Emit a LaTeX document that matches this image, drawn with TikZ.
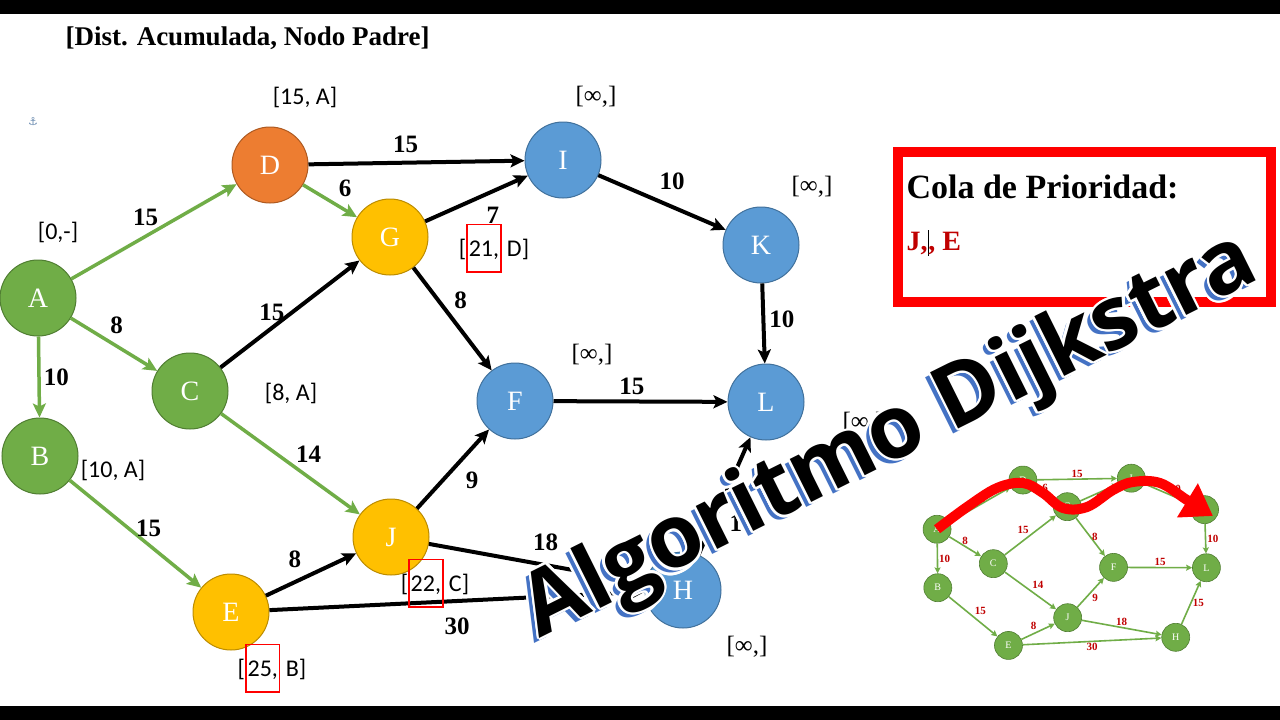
\documentclass[tikz,border=0pt]{standalone}
\usepackage{fontspec}
\setmainfont{Liberation Serif}
\newfontfamily\calfont{Carlito}
\newfontfamily\bigsans{Open Sans}
\newfontfamily\symfont{DejaVu Sans}
\usepackage{xcolor}
\usepackage{contour}
\usetikzlibrary{positioning,calc,arrows.meta}

\definecolor{ogreen}{HTML}{70AD47}
\definecolor{ogreenD}{HTML}{507E32}
\definecolor{oorange}{HTML}{ED7D31}
\definecolor{oorangeD}{HTML}{AE5A21}
\definecolor{oyellow}{HTML}{FFC000}
\definecolor{oyellowD}{HTML}{BC8C00}
\definecolor{oblue}{HTML}{5B9BD5}
\definecolor{oblueD}{HTML}{41719C}
\definecolor{wred}{HTML}{C00000}
\definecolor{shadeblue}{HTML}{4472C4}
\definecolor{anchorblue}{HTML}{6A8BB0}

\contourlength{2.3pt}
\newcommand{\hlbox}[1]{{\setlength{\fboxsep}{1pt}\setlength{\fboxrule}{1.5pt}\color{red}\fbox{\color{black}\rule[-14pt]{0pt}{44pt}#1}}}

\begin{document}
\begin{tikzpicture}[x=1pt, y=-1pt,
  vtx/.style={circle, minimum size=76pt, inner sep=0pt, line width=1pt, text=white, font=\fontsize{28}{30}\selectfont},
  gv/.style={vtx, fill=ogreen, draw=ogreenD},
  ov/.style={vtx, fill=oorange, draw=oorangeD},
  yv/.style={vtx, fill=oyellow, draw=oyellowD},
  bv/.style={vtx, fill=oblue, draw=oblueD},
  sv/.style={circle, minimum size=28pt, inner sep=0pt, fill=ogreen, draw=ogreenD, line width=.6pt, text=white, font=\fontsize{10}{11}\selectfont},
  gedge/.style={draw=ogreen, line width=3.5pt, -{Stealth[length=14pt, width=13pt, inset=3pt]}},
  kedge/.style={draw=black, line width=4pt, -{Stealth[length=14pt, width=13pt, inset=3pt]}},
  sedge/.style={draw=ogreen, line width=1.6pt, -{Stealth[length=6pt, width=6pt, inset=1pt]}},
  wt/.style={font=\bfseries\fontsize{25}{27}\selectfont, inner sep=1pt},
  swt/.style={font=\bfseries\fontsize{11}{12}\selectfont, text=wred, inner sep=1pt},
  dist/.style={font=\calfont\fontsize{24}{28}\selectfont},
  unk/.style={font=\fontsize{25}{28}\selectfont},
  bigtxt/.style={rotate=26.5, anchor=base, inner sep=0pt, font=\bigsans\bfseries\fontsize{88}{90}\selectfont},
]
  \useasboundingbox (0,0) rectangle (1280,720);
  \fill[white] (0,0) rectangle (1280,720);
  \fill[black] (0,0) rectangle (1280,14);
  \fill[black] (0,706) rectangle (1280,720);

  % Header
  \node[anchor=west, font=\bfseries\fontsize{27}{30}\selectfont] (hdr) at (62,38) {[Dist. Acumulada, Nodo Padre]};
  \node[text=anchorblue, font=\symfont\fontsize{11}{12}\selectfont] (anc) at (33,122) {⚓};

  % Vertices
  \node[gv] (A) at (38,298) {A};
  \node[gv] (B) at (40,456) {B};
  \node[gv] (C) at (190,391) {C};
  \node[ov] (D) at (270,165) {D};
  \node[yv] (E) at (231,612) {E};
  \node[bv] (F) at (515,401) {F};
  \node[yv] (G) at (390,237) {G};
  \node[bv] (H) at (683,590) {H};
  \node[bv] (I) at (563,160) {I};
  \node[yv] (J) at (391,537) {J};
  \node[bv] (K) at (761,245) {K};
  \node[bv] (L) at (766,402) {L};

  % Edges already fixed (green)
  \draw[gedge] (A) -- node[wt, pos=.45, above=8pt] (wAD) {15} (D);
  \draw[gedge] (A) -- node[wt, pos=.53, above=10pt] (wAC) {8} (C);
  \draw[gedge] (A) -- node[wt, pos=.5, right=2pt] (wAB) {10} (B);
  \draw[gedge] (B) -- node[wt, pos=.6, above=5pt] (wBE) {15} (E);
  \draw[gedge] (C) -- node[wt, pos=.63, above=12pt] (wCJ) {14} (J);
  \draw[gedge] (D) -- node[wt, pos=.78, above=11pt] (wDG) {6} (G);

  % Edges still open (black)
  \draw[kedge] (C) -- node[wt, pos=.37, above=4pt] (wCG) {15} (G);
  \draw[kedge] (D) -- node[wt, pos=.45, above=7pt] (wDI) {15} (I);
  \draw[kedge] (G) -- node[wt, pos=.66, below=13pt] (wGI) {7} (I);
  \draw[kedge] (G) -- node[wt, pos=.32, right=13pt] (wGF) {8} (F);
  \draw[kedge] (I) -- node[wt, pos=.58, above=14pt] (wIK) {10} (K);
  \draw[kedge] (K) -- node[wt, pos=.45, right=3pt] (wKL) {10} (L);
  \draw[kedge] (F) -- node[wt, pos=.45, above=4pt] (wFL) {15} (L);
  \draw[kedge] (J) -- node[wt, pos=.36, right=20pt] (wJF) {9} (F);
  \draw[kedge] (J) -- node[wt, pos=.54, above=11pt] (wJH) {18} (H);
  \draw[kedge] (E) -- node[wt, pos=.32, above=11pt] (wEJ) {8} (J);
  \draw[kedge] (E) -- node[wt, pos=.5, below=14pt] (wEH) {30} (H);
  \draw[kedge] (H) -- node[wt, pos=.27, right=14pt] (wHL) {15} (L);

  % [distance, parent] tags
  \node[dist] (dA) at (58,232) {[0,-]};
  \node[dist] (dB) at (113,470) {[10, A]};
  \node[dist] (dC) at (291,393) {[8, A]};
  \node[dist] (dD) at (305,97) {[15, A]};
  \node[dist] (dE) at (272,668) {[\hlbox{25,} B]};
  \node[dist] (dG) at (494,248) {[\hlbox{21,} D]};
  \node[dist] (dJ) at (435,583) {[\hlbox{22,} C]};
  \node[unk] (dI) at (596,97) {[∞,]};
  \node[unk] (dK) at (812,187) {[∞,]};
  \node[unk] (dF) at (592,355) {[∞,]};
  \node[unk] (dL) at (863,423) {[∞,]};
  \node[unk] (dH) at (747,647) {[∞,]};

  % Priority queue
  \draw[red, line width=10pt] (898,152) rectangle (1271,302);
  \node[anchor=west, font=\bfseries\fontsize{34}{38}\selectfont] (qhead) at (903,187) {Cola de Prioridad:};
  \node[anchor=west, text=wred, font=\bfseries\fontsize{28}{30}\selectfont] (qlist) at (903,243) {J,\textcolor{black}{\rule[-6pt]{0.8pt}{26pt}}, E};

  % Small copy of the graph
  \begin{scope}[shift={(923,419)}, scale=.37]
    \foreach \n/\x/\y in {A/38/298, B/40/456, C/190/391, D/270/165, E/231/612, F/515/401,
                          G/390/237, H/683/590, I/563/160, J/391/537, K/761/245, L/766/402}
      \node[sv] (s\n) at (\x,\y) {\n};
    \foreach \a/\b/\w/\o in {A/D/15/south, A/C/8/south, A/B/10/west, B/E/15/south west,
                             C/J/14/south west, D/G/6/south, C/G/15/south east, D/I/15/south,
                             G/I/7/north, G/F/8/west, I/K/10/south west, K/L/10/west,
                             F/L/15/south, J/F/9/north west, J/H/18/south, E/J/8/south east,
                             E/H/30/north, H/L/15/west}
      \draw[sedge] (s\a) -- node[swt, pos=.5, anchor=\o] (sw\a\b) {\w} (s\b);
  \end{scope}
  \draw[red, line width=10pt, -{Triangle[length=30pt, width=38pt]}]
    plot[smooth, tension=.6] coordinates {(sA.center) (967,507) (997,488) (1023,483) (1043,493) (1063,508)
      (1087,507) (1113,490) (1133,482) (1160,483) (1187,500) (1213,516)};

  % Title over everything
  \node[bigtxt, text=shadeblue] (algshade) at (896,463) {\contour{white}{Algoritmo Dijkstra}};
  \node[bigtxt] (alg) at (901,458) {\contour{white}{Algoritmo Dijkstra}};
\end{tikzpicture}
\end{document}
